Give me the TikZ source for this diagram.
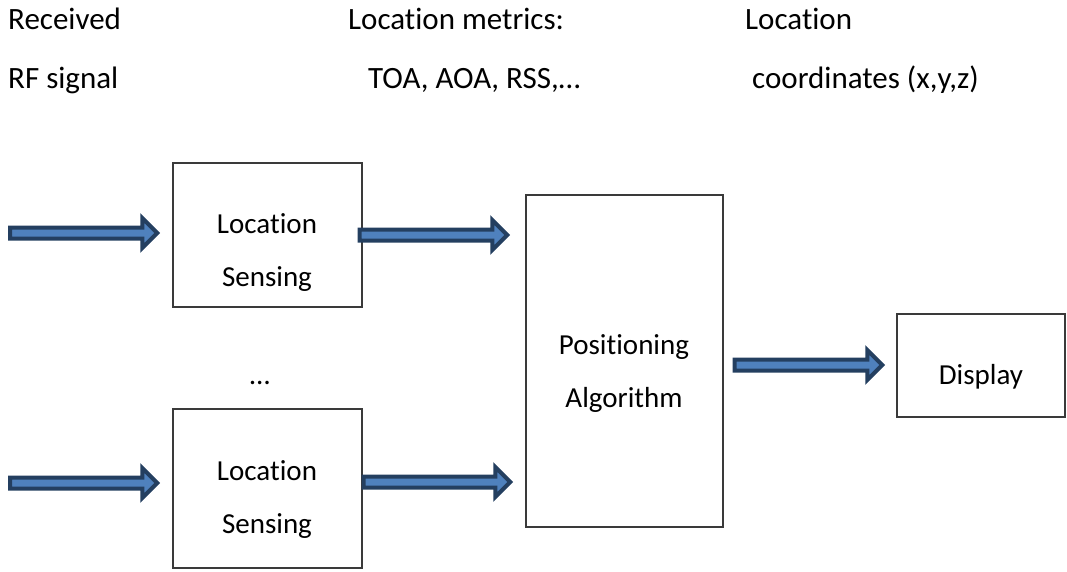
\documentclass[tikz,border=0pt]{standalone}
\usepackage{fontspec}
\setmainfont{Carlito}[RawFeature={-liga,-clig,-calt,-dlig}]
\usetikzlibrary{calc}
\definecolor{arrowline}{HTML}{243F60}
\definecolor{arrowfill}{HTML}{4F81BD}
\definecolor{boxline}{HTML}{3A3A3A}
\tikzset{
  box/.style={draw=boxline, line width=1.4pt, inner sep=0pt},
  txt/.style={font=\fontsize{29}{53}\selectfont, inner sep=0pt, align=center, anchor=base},
  toptxt/.style={font=\fontsize{31}{32}\selectfont, inner sep=0pt, anchor=base west},
  fatarr/.style={draw=arrowline, fill=arrowfill, line width=4pt, line join=miter, miter limit=3}
}
% block arrow from #1 to #2 (horizontal)
\newcommand\fatarrow[2]{%
  \draw[fatarr] let \p1=(#1), \p2=(#2) in
    (\x1,\y1+5.5pt) -- (\x2-17pt,\y1+5.5pt) -- (\x2-17pt,\y1+15pt) -- (\x2-2pt,\y1)
    -- (\x2-17pt,\y1-15pt) -- (\x2-17pt,\y1-5.5pt) -- (\x1,\y1-5.5pt) -- cycle;}
\begin{document}
\begin{tikzpicture}[x=1pt,y=-1pt]
\useasboundingbox (0,0) rectangle (1067,571);
% labels on top
\node[toptxt] (recv) at (8,29) {Received};
\node[toptxt] (rf) at (8,88) {RF signal};
\node[toptxt] (metr) at (348,29) {Location metrics:};
\node[toptxt] (toa) at (368,88) {TOA, AOA, RSS,…};
\node[toptxt] (loc) at (745,29) {Location};
\node[toptxt] (coord) at (752,88) {coordinates (x,y,z)};
% boxes
\node[box, minimum width=189, minimum height=144] (ls1) at (267.5,235) {};
\node[box, minimum width=189, minimum height=159] (ls2) at (267.5,488.5) {};
\node[box, minimum width=197, minimum height=332] (pa) at (624.5,361) {};
\node[box, minimum width=168, minimum height=103] (disp) at (981,365.5) {};
\node[txt] (ls1t) at (267,286) {Location\\Sensing};
\node[txt] (ls2t) at (267,533) {Location\\Sensing};
\node[txt] (pat) at (624,407) {Positioning\\Algorithm};
\node[txt] (dispt) at (981,384) {Display};
\node[txt] (dots) at (260,384) {…};
% arrows
\coordinate (in1) at (10,233);
\coordinate (in2) at (10,483);
\fatarrow{in1}{$(ls1.west|-in1)+(-13,0)$}
\fatarrow{$(ls1.east)+(-3,0)$}{$(pa.west)+(-16,235-361)$}
\fatarrow{in2}{$(ls2.west|-in2)+(-13,0)$}
\fatarrow{$(ls2.east)+(1,482-488.5)$}{$(pa.west)+(-13,482-361)$}
\fatarrow{$(pa.east)+(11,365-361)$}{$(disp.west)+(-12,0)$}
\end{tikzpicture}
\end{document}
